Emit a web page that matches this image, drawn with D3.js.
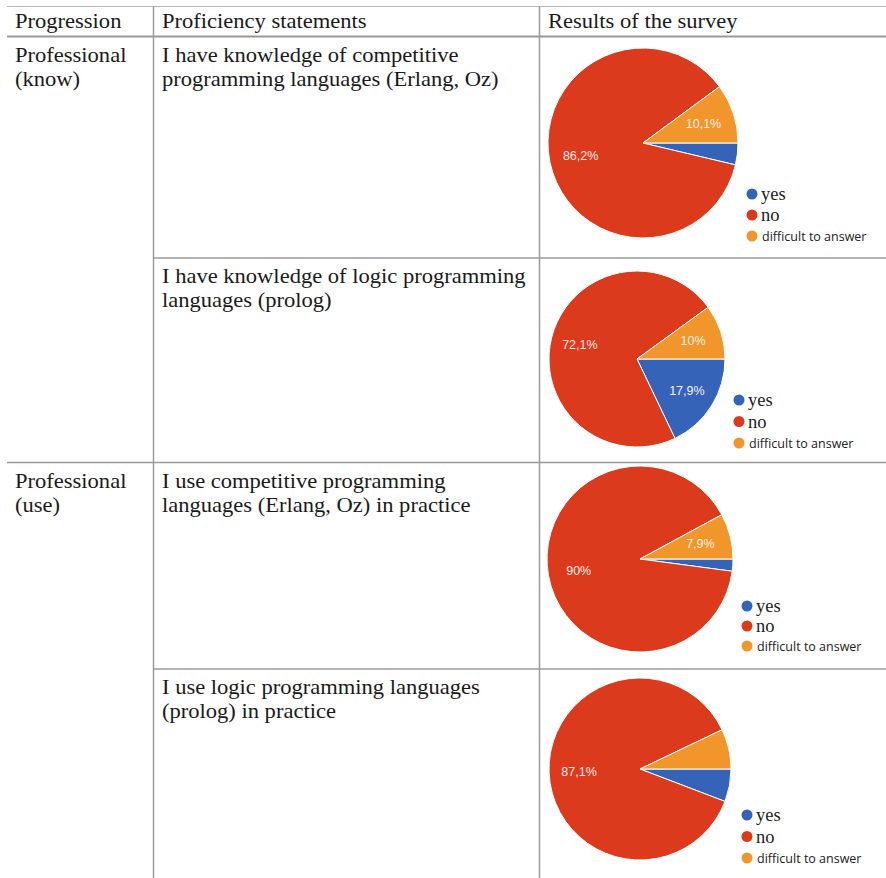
<!DOCTYPE html>
<html>
<head>
<meta charset="utf-8">
<script src="https://cdn.jsdelivr.net/npm/d3@7"></script>
<style>
  html, body { margin: 0; padding: 0; background: #fff; }
  svg { display: block; }
</style>
</head>
<body>
<svg id="chart" width="886" height="878"></svg>
<script>
// Survey table: header, row texts and answer shares (percent)
const headers = ["Progression", "Proficiency statements", "Results of the survey"];
const progressions = [["Professional", "(know)"], ["Professional", "(use)"]];
const statements = [
  ["I have knowledge of competitive", "programming languages (Erlang, Oz)"],
  ["I have knowledge of logic programming", "languages (prolog)"],
  ["I use competitive programming", "languages (Erlang, Oz) in practice"],
  ["I use logic programming languages", "(prolog) in practice"]
];
const answers = ["yes", "no", "difficult to answer"];
const yesValues = [3.7, 17.9, 2.1, 5.8];
const noValues = [86.2, 72.1, 90, 87.1];
const difficultValues = [10.1, 10, 7.9, 7.1];

const colors = d3.scaleOrdinal().domain(answers).range(["#3463b8", "#dc3a1c", "#f1962a"]);

const svg = d3.select("#chart");

// table geometry
const colX = [7, 153.5, 539.5, 886];
const rowY = [6.5, 36.5, 258, 462.5, 669, 878];
const lineColor = "#9a9a9a";

// horizontal rules
svg.append("line").attr("x1", colX[0]).attr("x2", colX[3]).attr("y1", rowY[0]).attr("y2", rowY[0])
  .attr("stroke", "#b4b4b4").attr("stroke-width", 1.2);
svg.append("line").attr("x1", colX[0]).attr("x2", colX[3]).attr("y1", rowY[1]).attr("y2", rowY[1])
  .attr("stroke", lineColor).attr("stroke-width", 2);
[[rowY[2], colX[1]], [rowY[3], colX[0]], [rowY[4], colX[1]]].forEach(([y, x0]) => {
  svg.append("line").attr("x1", x0).attr("x2", colX[3]).attr("y1", y).attr("y2", y)
    .attr("stroke", lineColor).attr("stroke-width", 1.5);
});
// vertical rules
[colX[1], colX[2]].forEach(x => {
  svg.append("line").attr("x1", x).attr("x2", x).attr("y1", rowY[0]).attr("y2", rowY[5])
    .attr("stroke", lineColor).attr("stroke-width", 1.5);
});

// serif table text, slightly widened to the table's typeface proportions
function tableText(x, y, str) {
  svg.append("text")
    .attr("transform", `translate(${x},${y}) scale(1.1,1)`)
    .attr("font-family", "'Liberation Serif', 'Times New Roman', serif")
    .attr("font-size", 20.5)
    .attr("fill", "#1a1a1a")
    .text(str);
}

const textX = [15, 162, 548];
headers.forEach((h, i) => tableText(textX[i], 28, h));

progressions.forEach((lines, g) => {
  const top = rowY[1 + g * 2];
  lines.forEach((l, k) => tableText(textX[0], top + 25 + k * 24, l));
});
statements.forEach((lines, r) => {
  const top = rowY[1 + r];
  lines.forEach((l, k) => tableText(textX[1], top + 25 + k * 24, l));
});

// pie layout per result cell
const pieGeom = [
  { cx: 643, cy: 143, r: 95, lx: 752, ly: 194, step: 21 },
  { cx: 637, cy: 359, r: 88, lx: 739, ly: 400, step: 21.5 },
  { cx: 640, cy: 559, r: 93, lx: 747, ly: 606, step: 20 },
  { cx: 640, cy: 769, r: 91, lx: 747, ly: 815, step: 21.5 }
];

const pie = d3.pie()
  .sort(null)
  .value(d => d.value)
  .startAngle(Math.PI / 2)
  .endAngle(Math.PI / 2 + 2 * Math.PI);

const fmt = v => String(v).replace(".", ",") + "%";

statements.forEach((s, i) => {
  const g = pieGeom[i];
  const data = [
    { key: answers[0], value: yesValues[i] },
    { key: answers[1], value: noValues[i] },
    { key: answers[2], value: difficultValues[i] }
  ];
  const arc = d3.arc().innerRadius(0).outerRadius(g.r);
  const labelArc = d3.arc().innerRadius(g.r * 0.67).outerRadius(g.r * 0.67);

  const pg = svg.append("g").attr("transform", `translate(${g.cx},${g.cy})`);
  const arcs = pie(data);
  pg.selectAll("path").data(arcs).join("path")
    .attr("d", arc)
    .attr("fill", d => colors(d.data.key))
    .attr("stroke", "#fff")
    .attr("stroke-width", 1)
    .attr("stroke-linejoin", "round");

  pg.selectAll("text").data(arcs.filter(d => d.data.value >= 7.5)).join("text")
    .attr("transform", d => `translate(${labelArc.centroid(d)})`)
    .attr("text-anchor", "middle")
    .attr("dy", "0.35em")
    .attr("font-family", "'Liberation Sans', Arial, sans-serif")
    .attr("font-size", 12.5)
    .attr("fill", "#fbeee8")
    .text(d => fmt(d.data.value));

  // legend
  const lg = svg.append("g").attr("transform", `translate(${g.lx},${g.ly})`);
  answers.forEach((a, k) => {
    const row = lg.append("g").attr("transform", `translate(0,${k * g.step})`);
    row.append("circle").attr("r", 5.5).attr("fill", colors(a));
    const small = k === 2;
    row.append("text")
      .attr("x", small ? 10 : 9)
      .attr("y", small ? 4.5 : 6)
      .attr("font-family", small ? "'Open Sans', 'Noto Sans', sans-serif" : "'Liberation Serif', serif")
      .attr("font-size", small ? 12.5 : 18.5)
      .attr("fill", "#222")
      .text(a);
  });
});
</script>
</body>
</html>
